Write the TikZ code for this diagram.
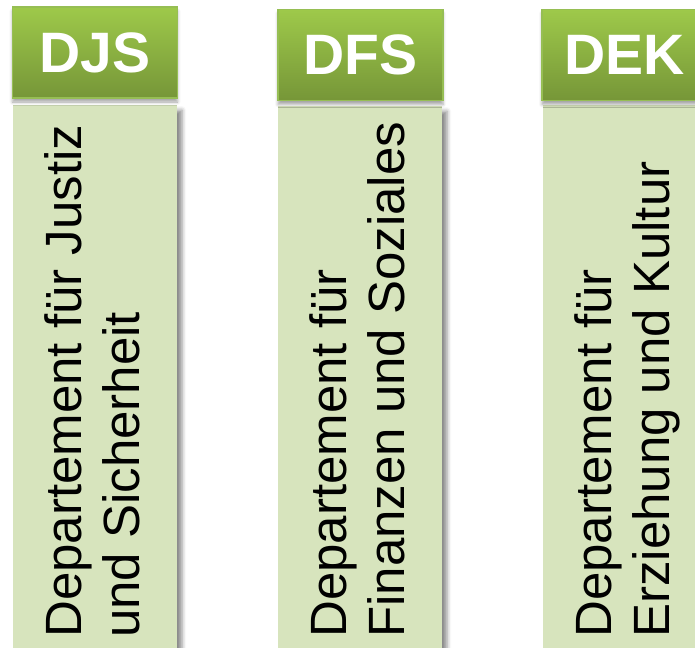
\documentclass[tikz,border=0pt]{standalone}
\usepackage{fontspec}
\setmainfont{Liberation Sans}
\usetikzlibrary{shadows.blur}

\definecolor{headtop}{RGB}{158,201,74}
\definecolor{headbot}{RGB}{118,150,56}
\definecolor{headline}{RGB}{150,190,84}
\definecolor{barfill}{RGB}{215,228,189}

\begin{document}
\begin{tikzpicture}[x=1pt,y=1pt,yscale=-1,
  header/.style={rectangle, minimum width=165pt, minimum height=91pt, inner sep=0pt,
    top color=headtop, bottom color=headbot, draw=headline, line width=1.2pt,
    blur shadow={shadow xshift=0pt, shadow yshift=-4pt, shadow blur radius=3pt, shadow opacity=35},
    text=white, font=\fontsize{57}{60}\selectfont\bfseries},
  bar/.style={rectangle, anchor=north, minimum width=164pt, minimum height=620pt, inner sep=0pt,
    fill=barfill,
    blur shadow={shadow xshift=5pt, shadow yshift=-5pt, shadow blur radius=4pt, shadow opacity=45}},
  bartext/.style={rotate=90, anchor=west, inner sep=0pt, align=left,
    font=\fontsize{51}{58}\selectfont}]
%set diagram size to the reference
\useasboundingbox (0,0) rectangle (695,647);
\clip (0,0) rectangle (695,647);

% Bars
\node [bar] (barDJS) at (95,105) {};
\node [bar] (barDFS) at (360,106) {};
\node [bar] (barDEK) at (625,105) {};

% Headers
\node [header] (headDJS) at (95,52.5) {DJS};
\node [header] (headDFS) at (360.5,55) {DFS};
\node [header] (headDEK) at (624.5,55) {DEK};

% Text Node
\node [bartext] (txtDJS) at (92.5,638) {Departement für Justiz\\und Sicherheit};
% Text Node
\node [bartext] (txtDFS) at (357.5,638) {Departement für\\Finanzen und Soziales};
% Text Node
\node [bartext] (txtDEK) at (627,638) {Departement für\\Erziehung und Kultur};

\end{tikzpicture}
\end{document}
